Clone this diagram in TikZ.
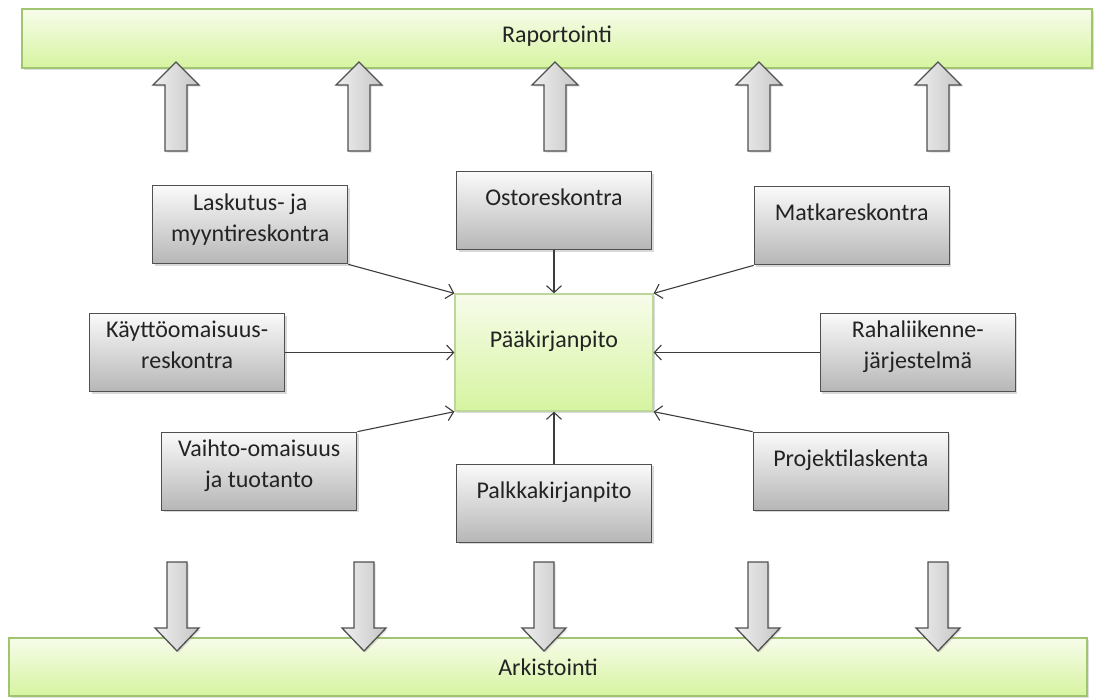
\documentclass[tikz,border=0pt]{standalone}
\usepackage{fontspec}
\setmainfont{Carlito}
\usetikzlibrary{positioning,arrows.meta,shadows}
\definecolor{barTop}{RGB}{247,252,234}
\definecolor{barBottom}{RGB}{214,244,160}
\definecolor{barEdge}{RGB}{160,196,112}
\definecolor{boxTop}{RGB}{250,250,250}
\definecolor{boxBottom}{RGB}{182,182,182}
\definecolor{boxEdge}{RGB}{80,80,80}
\definecolor{lineCol}{RGB}{60,60,60}
\definecolor{textCol}{RGB}{35,35,35}
\tikzset{
  module/.style={
    rectangle,
    draw=boxEdge, line width=1.3pt,
    top color=boxTop, bottom color=boxBottom,
    minimum width=195pt, minimum height=78pt,
    text=textCol, font=\fontsize{24}{31}\selectfont,
    text depth=27pt,
    drop shadow={shadow xshift=2pt, shadow yshift=-2pt, opacity=0.3}
  },
  hub/.style={
    module,
    draw=barEdge!70, top color=barTop, bottom color=barBottom,
    minimum width=198pt, minimum height=117pt
  },
  bar/.style={
    rectangle,
    draw=barEdge, line width=1.2pt,
    top color=barTop, bottom color=barBottom,
    text=textCol, font=\fontsize{24}{31}\selectfont,
    drop shadow={shadow xshift=1.5pt, shadow yshift=-2pt, opacity=0.25}
  },
  fatarrow/.pic={
    \draw[draw=boxEdge, line width=1.3pt, left color=gray!12, right color=gray!45,
      drop shadow={shadow xshift=1.5pt, shadow yshift=-1.5pt, opacity=0.25}]
      (-11,0) -- (-11,-66) -- (-23,-66) -- (0,-89) -- (23,-66) -- (11,-66) -- (11,0) -- cycle;
  },
  thinarrow/.pic={
    \draw[draw=boxEdge, line width=1.3pt, left color=gray!12, right color=gray!45,
      drop shadow={shadow xshift=1.5pt, shadow yshift=-1.5pt, opacity=0.25}]
      (-10,0) -- (-10,-66) -- (-22,-66) -- (0,-89) -- (22,-66) -- (10,-66) -- (10,0) -- cycle;
  },
}

\begin{document}
\begin{tikzpicture}[->,x=1pt,y=-1pt,>={Straight Barb[length=7pt,width=15pt]},every text node part/.style={align=center}]

\useasboundingbox (0,0) rectangle (1099,697);

\node[bar, minimum width=1070pt, minimum height=59pt, text depth=9pt] (RAPORT) at (557,38.5) {Raportointi};
\node[bar, minimum width=1078pt, minimum height=58pt] (ARKISTO) at (548,667) {Arkistointi};

\pic at (176,151) {fatarrow};
\pic at (359,151) {fatarrow};
\pic at (555,151) {fatarrow};
\pic at (759,151) {fatarrow};
\pic at (938,151) {fatarrow};

\pic[rotate=180] at (177,562) {thinarrow};
\pic[rotate=180] at (364,562) {thinarrow};
\pic[rotate=180] at (544,562) {thinarrow};
\pic[rotate=180] at (758,562) {thinarrow};
\pic[rotate=180] at (938,562) {thinarrow};

\node[hub] (MAIN) at (554,352.5) {Pääkirjanpito};

\node[module, above=43pt of MAIN] (OSTO) {Ostoreskontra};
\node[module, text depth=15pt, above left=29pt and 106pt of MAIN.north west] (LASKU) {Laskutus- ja\\myyntireskontra};
\node[module, above right=28pt and 100pt of MAIN.north east] (MATKA) {Matkareskontra};
\node[module, text depth=15pt, left=169pt of MAIN.west] (KAYTTO) {Käyttöomaisuus-\\reskontra};
\node[module, text depth=15pt, right=166pt of MAIN.east] (RAHA) {Rahaliikenne-\\järjestelmä};
\node[module, text depth=15pt, below left=20pt and 97pt of MAIN.south west] (VAIHTO) {Vaihto-omaisuus\\ja tuotanto};
\node[module, below=52pt of MAIN] (PALKKA) {Palkkakirjanpito};
\node[module, below right=20pt and 99pt of MAIN.south east] (PROJ) {Projektilaskenta};

\draw [lineCol, line width=1.1pt] (LASKU.south east) -- (MAIN.north west);
\draw [lineCol, line width=1.1pt] (OSTO) -- (MAIN);
\draw [lineCol, line width=1.1pt] (MATKA.south west) -- (MAIN.north east);
\draw [lineCol, line width=1.1pt] (KAYTTO) -- (MAIN);
\draw [lineCol, line width=1.1pt] (RAHA) -- (MAIN);
\draw [lineCol, line width=1.1pt] (VAIHTO.north east) -- (MAIN.south west);
\draw [lineCol, line width=1.1pt] (PALKKA) -- (MAIN);
\draw [lineCol, line width=1.1pt] (PROJ.north west) -- (MAIN.south east);

\end{tikzpicture}
\end{document}
